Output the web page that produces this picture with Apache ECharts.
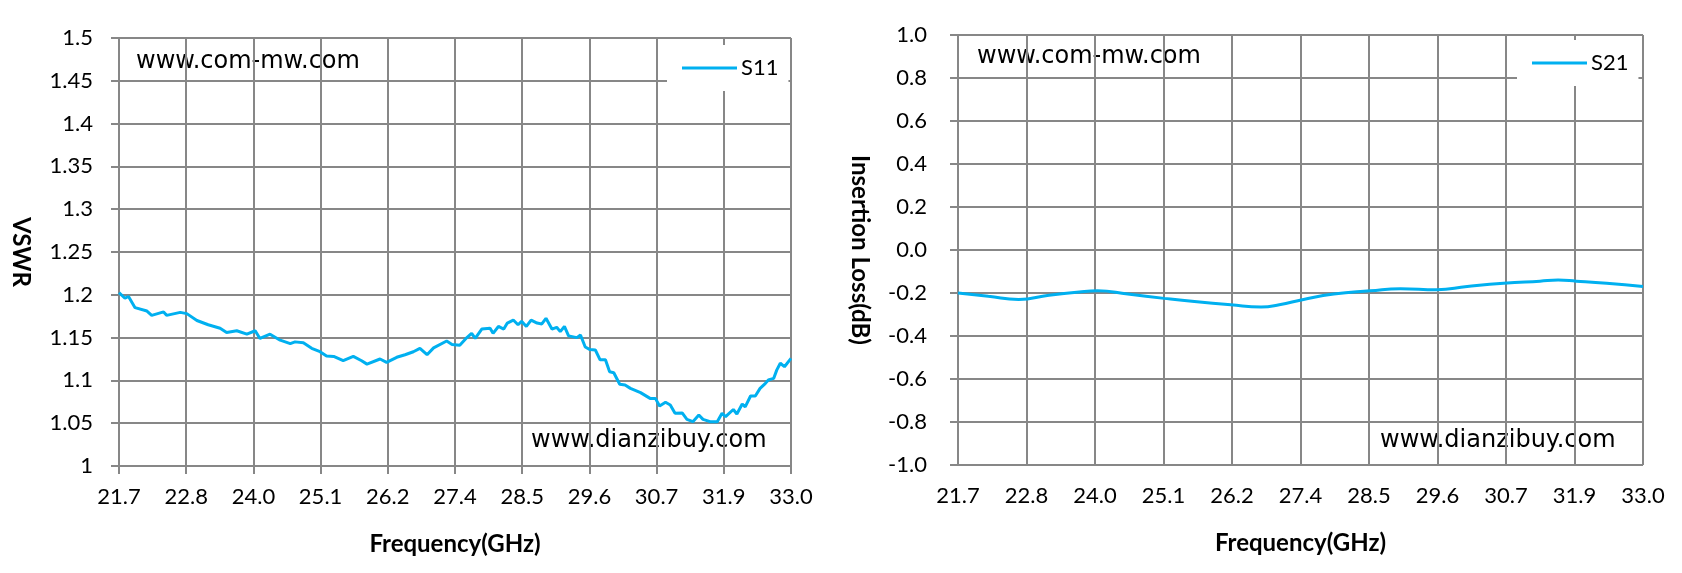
<!DOCTYPE html>
<html>
<head>
<meta charset="utf-8">
<script src="https://cdn.jsdelivr.net/npm/echarts@6/dist/echarts.min.js"></script>
<style>
html,body{margin:0;padding:0;background:#fff;}
#chart{width:1682px;height:573px;}
</style>
</head>
<body>
<div id="chart"></div>
<script>
// ---- data ----
const xTickLabels = ['21.7','22.8','24.0','25.1','26.2','27.4','28.5','29.6','30.7','31.9','33.0'];
const freqStart = 21.7;   // GHz, first tick
const freqStep = 1.13;    // GHz between ticks

const s11Freq = [21.70,21.80,21.86,21.97,22.17,22.25,22.45,22.50,22.73,22.84,23.01,23.20,23.40,23.51,23.68,23.85,23.99,24.07,24.24,24.41,24.58,24.66,24.80,24.94,25.08,25.19,25.31,25.47,25.64,25.78,25.87,26.09,26.20,26.37,26.51,26.65,26.76,26.88,26.99,27.21,27.30,27.43,27.55,27.63,27.69,27.80,27.94,27.99,28.08,28.17,28.23,28.33,28.41,28.47,28.55,28.63,28.73,28.81,28.88,28.98,29.06,29.12,29.19,29.26,29.40,29.46,29.54,29.62,29.71,29.79,29.88,29.95,30.02,30.12,30.21,30.30,30.47,30.63,30.72,30.79,30.89,30.97,31.05,31.17,31.25,31.35,31.45,31.52,31.64,31.76,31.84,31.90,32.03,32.09,32.18,32.23,32.32,32.40,32.48,32.57,32.62,32.71,32.76,32.82,32.89,33.00];
const s11Vswr = [1.2025,1.196,1.198,1.185,1.181,1.176,1.180,1.176,1.1795,1.178,1.170,1.165,1.161,1.156,1.158,1.154,1.158,1.149,1.154,1.147,1.143,1.145,1.144,1.1375,1.1335,1.1285,1.128,1.123,1.128,1.123,1.119,1.125,1.121,1.127,1.130,1.1335,1.1375,1.130,1.138,1.146,1.142,1.141,1.150,1.155,1.149,1.160,1.161,1.155,1.163,1.160,1.167,1.1705,1.165,1.169,1.163,1.1705,1.167,1.166,1.1725,1.160,1.162,1.157,1.163,1.152,1.150,1.153,1.139,1.136,1.1355,1.124,1.124,1.110,1.109,1.0955,1.0946,1.0907,1.0857,1.079,1.079,1.070,1.0744,1.0713,1.0615,1.062,1.0545,1.0518,1.0596,1.0545,1.0518,1.0518,1.0615,1.0576,1.066,1.0607,1.0724,1.069,1.0818,1.0818,1.0907,1.0966,1.1005,1.1024,1.112,1.120,1.116,1.1258];

const s21Freq = [21.7,22.2,22.7,23.2,23.7,24.0,24.5,25.1,25.6,26.2,26.7,27.0,27.4,27.9,28.5,29.0,29.6,30.1,30.7,31.3,31.6,31.9,32.4,33.0];
const s21Loss = [-0.20,-0.215,-0.23,-0.21,-0.195,-0.19,-0.205,-0.225,-0.24,-0.255,-0.265,-0.255,-0.23,-0.205,-0.19,-0.18,-0.185,-0.17,-0.155,-0.145,-0.14,-0.145,-0.155,-0.17];

const vswrTicks = {min:1, max:1.5, step:0.05};
const ilTicks = {min:-1, max:1, step:0.2};

// ---- chart ----
const GRID = '#878787';
const LINE = '#00B0F0';
const LBL = 'Lato, "Noto Sans", sans-serif';
const WM = '"DejaVu Sans", Verdana, sans-serif';

function pairs(fs, vs){ return fs.map((f,i)=>[+(f - freqStart).toFixed(4), vs[i]]); }

function xAxis(gridIndex){
  return {
    type:'value', gridIndex, min:0, max:+(freqStep*10).toFixed(2), interval:freqStep,
    name:'Frequency(GHz)', nameLocation:'middle', nameGap:66,
    nameTextStyle:{fontFamily:LBL, fontWeight:'bold', fontSize:24, color:'#000'},
    axisLine:{show:true, lineStyle:{color:GRID, width:2}},
    axisTick:{show:true, length:8, lineStyle:{color:GRID, width:2}},
    axisLabel:{fontFamily:LBL, fontSize:22, color:'#000', margin:20,
      formatter:(v)=>xTickLabels[Math.round(v/freqStep)]},
    splitLine:{show:true, lineStyle:{color:GRID, width:2}}
  };
}
function yAxis(gridIndex, t, name, fmt, margin){
  return {
    type:'value', gridIndex, min:t.min, max:t.max, interval:t.step,
    name, nameLocation:'middle', nameGap:86, nameRotate:-90,
    nameTextStyle:{fontFamily:LBL, fontWeight:'bold', fontSize:24, color:'#000'},
    axisLine:{show:true, lineStyle:{color:GRID, width:2}},
    axisTick:{show:true, length:8, lineStyle:{color:GRID, width:2}},
    axisLabel:{fontFamily:LBL, fontSize:22, color:'#000', margin, formatter:fmt},
    splitLine:{show:true, lineStyle:{color:GRID, width:2}}
  };
}

const chart = echarts.init(document.getElementById('chart'));
chart.setOption({
  animation:false,
  backgroundColor:'#fff',
  grid:[
    {left:119, top:38, right:891, bottom:107},
    {left:958, top:35, right:39, bottom:108}
  ],
  xAxis:[xAxis(0), xAxis(1)],
  yAxis:[
    yAxis(0, vswrTicks, 'VSWR', (v)=>String(+v.toFixed(2)), 26),
    yAxis(1, ilTicks, 'Insertion Loss(dB)', (v)=>(Math.abs(v)<1e-9?0:v).toFixed(1), 31)
  ],
  legend:[
    {data:['S11'], left:667, top:45, orient:'horizontal', backgroundColor:'#fff',
     padding:[12,10,12,15], itemWidth:55, itemHeight:3, itemGap:4, icon:'rect',
     textStyle:{fontFamily:LBL, fontSize:22, color:'#000', padding:[0,0,0,-1]}},
    {data:['S21'], left:1517, top:40, orient:'horizontal', backgroundColor:'#fff',
     padding:[12,10,12,15], itemWidth:55, itemHeight:3, itemGap:4, icon:'rect',
     textStyle:{fontFamily:LBL, fontSize:22, color:'#000', padding:[0,0,0,-1]}}
  ],
  graphic:[
    {type:'text', left:136, top:50, style:{text:'www.com-mw.com', font:'24px '+WM, fill:'#000'}},
    {type:'text', left:531, top:429, style:{text:'www.dianzibuy.com', font:'24px '+WM, fill:'#000'}},
    {type:'text', left:977, top:45, style:{text:'www.com-mw.com', font:'24px '+WM, fill:'#000'}},
    {type:'text', left:1380, top:429, style:{text:'www.dianzibuy.com', font:'24px '+WM, fill:'#000'}}
  ],
  series:[
    {name:'S11', type:'line', xAxisIndex:0, yAxisIndex:0, data:pairs(s11Freq, s11Vswr),
     symbol:'none', lineStyle:{color:LINE, width:3}, itemStyle:{color:LINE}},
    {name:'S21', type:'line', xAxisIndex:1, yAxisIndex:1, data:pairs(s21Freq, s21Loss),
     smooth:0.5, symbol:'none', lineStyle:{color:LINE, width:3}, itemStyle:{color:LINE}}
  ]
});
</script>
</body>
</html>
